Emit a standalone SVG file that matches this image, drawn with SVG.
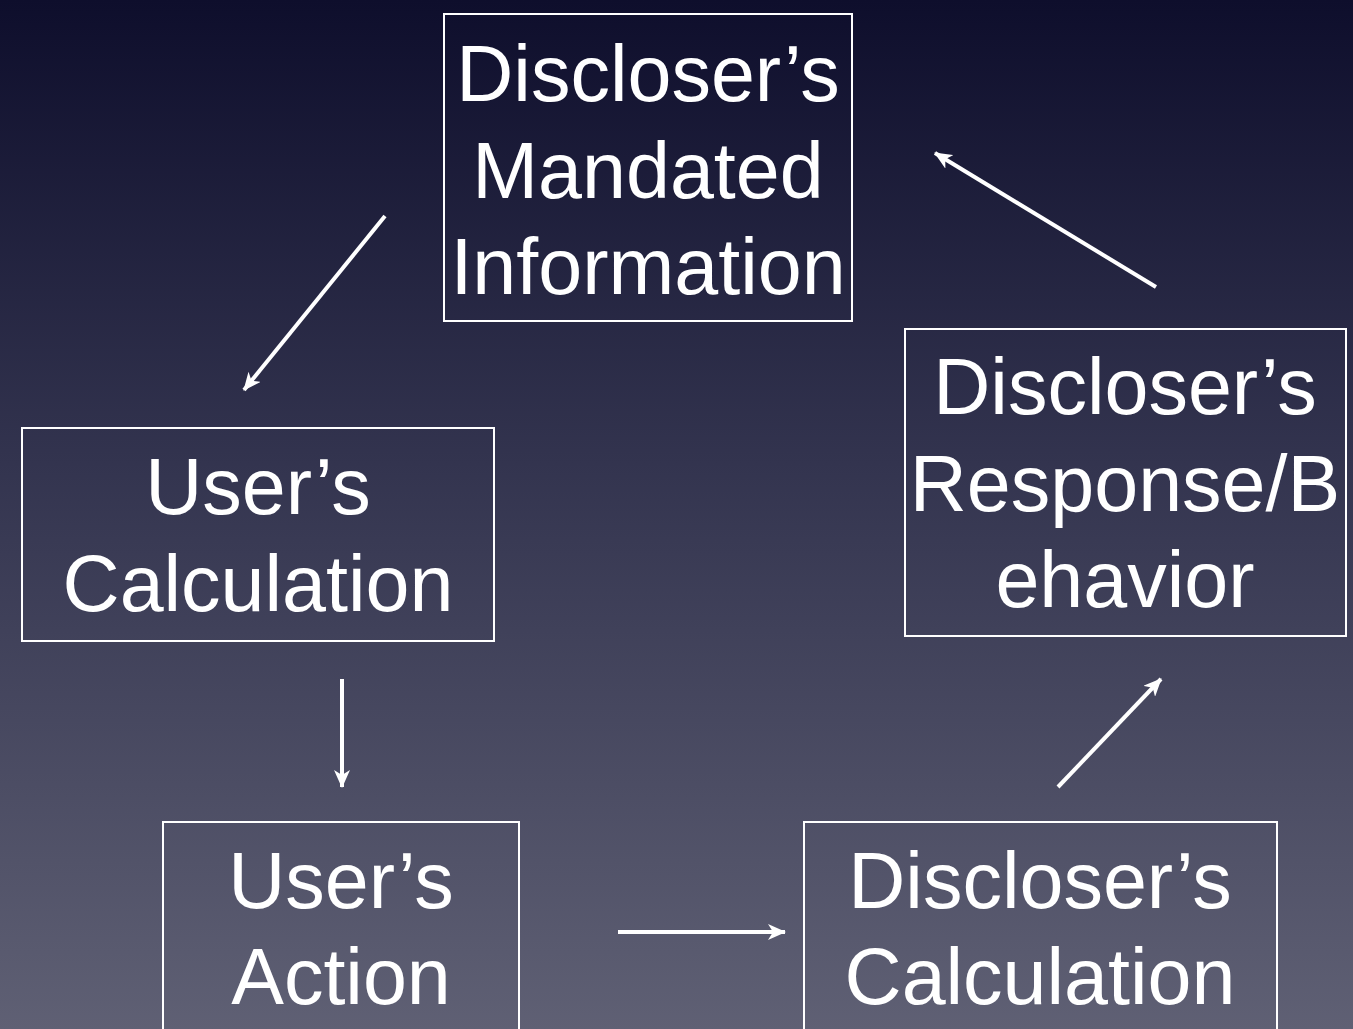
<svg xmlns="http://www.w3.org/2000/svg" width="1353" height="1029" viewBox="0 0 1353 1029">
  <defs>
    <linearGradient id="bg" x1="0" y1="0" x2="0" y2="1">
      <stop offset="0" stop-color="#0e0e2c"/>
      <stop offset="0.45" stop-color="#33344f"/>
      <stop offset="1" stop-color="#5f6074"/>
    </linearGradient>
    <marker id="ah" markerUnits="userSpaceOnUse" markerWidth="18" markerHeight="16" viewBox="0 0 18 16" refX="17" refY="8" orient="auto">
      <path d="M0,0 L18,8 L0,16 L5,8 z" fill="#ffffff"/>
    </marker>
    <style>
      .box { fill: none; stroke: #ffffff; stroke-width: 2; }
      .lbl { font-family: "Liberation Sans", Arial, sans-serif; font-size: 79px; fill: #ffffff; text-anchor: middle; }
      .conn { stroke: #ffffff; stroke-width: 4; fill: none; marker-end: url(#ah); }
    </style>
  </defs>
  <rect x="0" y="0" width="1353" height="1029" fill="url(#bg)"/>

  <g id="node-mandated">
    <rect class="box" x="444" y="14" width="408" height="307"/>
    <text class="lbl" x="648" y="101">Discloser’s</text>
    <text class="lbl" x="648" y="198">Mandated</text>
    <text class="lbl" x="648" y="294">Information</text>
  </g>

  <g id="node-user-calc">
    <rect class="box" x="22" y="428" width="472" height="213"/>
    <text class="lbl" x="258" y="514">User’s</text>
    <text class="lbl" x="258" y="611">Calculation</text>
  </g>

  <g id="node-user-action">
    <rect class="box" x="163" y="822" width="356" height="220"/>
    <text class="lbl" x="341" y="908">User’s</text>
    <text class="lbl" x="341" y="1004">Action</text>
  </g>

  <g id="node-discloser-calc">
    <rect class="box" x="804" y="822" width="473" height="220"/>
    <text class="lbl" x="1040" y="908">Discloser’s</text>
    <text class="lbl" x="1040" y="1004">Calculation</text>
  </g>

  <g id="node-discloser-response">
    <rect class="box" x="905" y="329" width="441" height="307"/>
    <text class="lbl" x="1125" y="414">Discloser’s</text>
    <text class="lbl" x="1125" y="511">Response/B</text>
    <text class="lbl" x="1125" y="607">ehavior</text>
  </g>

  <g id="connectors">
    <line class="conn" x1="385" y1="216" x2="244" y2="390"/>
    <line class="conn" x1="342" y1="679" x2="342" y2="787"/>
    <line class="conn" x1="618" y1="932" x2="785" y2="932"/>
    <line class="conn" x1="1058" y1="787" x2="1161" y2="679"/>
    <line class="conn" x1="1156" y1="287" x2="935" y2="153"/>
  </g>
</svg>
